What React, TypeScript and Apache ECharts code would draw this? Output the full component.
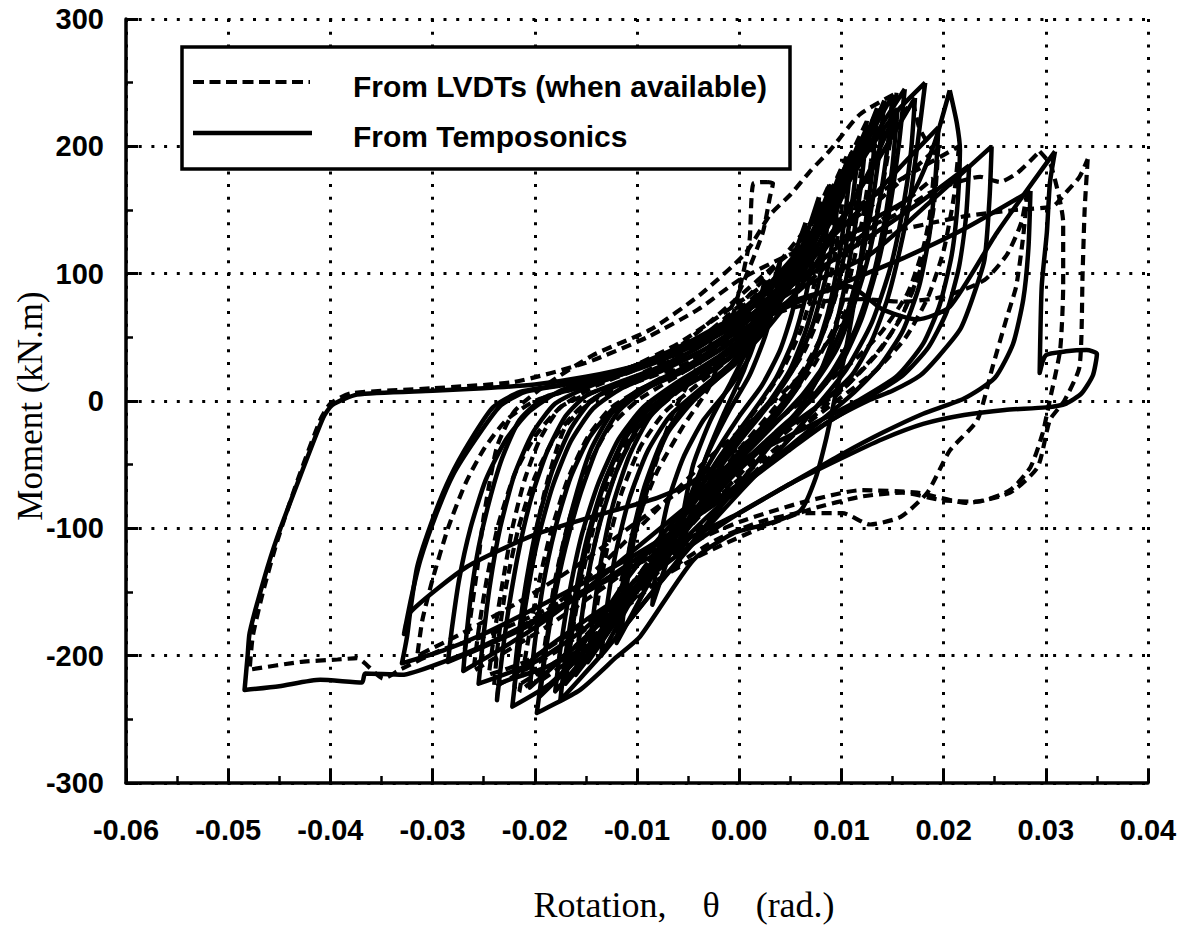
import React, { useEffect, useRef } from "react";
import * as echarts from "echarts";

// ---------- axes ----------
const xRange = [-0.06, 0.04];
const xStep = 0.01;
const yRange = [-300, 300];
const yStep = 100;
const seriesNames = ["From LVDTs (when available)", "From Temposonics"];
const xTitle = "Rotation,    θ    (rad.)";
const yTitle = "Moment (kN.m)";

// ---------- Temposonics (solid) cycles: [rotation, moment] ----------
const tempoA: number[][] = [[0.0309,196],[0.0304,171],[0.0301,132],[0.0296,90],[0.0294,22],[0.0300,36],[0.0320,39],[0.0340,40],[0.0350,37],[0.0346,20],[0.0335,6],[0.0320,-2],[0.0300,-5],[0.0260,-7],[0.0220,-11],[0.0180,-18],[0.0140,-30],[0.0100,-45],[0.0050,-65],[0.0000,-88],[-0.0050,-108],[-0.0100,-128],[-0.0150,-150],[-0.0200,-172],[-0.0250,-192],[-0.0290,-205],[-0.0330,-215],[-0.0366,-214],[-0.0369,-221],[-0.0410,-219],[-0.0450,-224],[-0.0484,-227],[-0.0481,-200],[-0.0479,-182],[-0.0465,-140],[-0.0452,-107],[-0.0430,-60],[-0.0407,-13],[-0.0398,-3],[-0.0374,5],[-0.0300,8],[-0.0250,10],[-0.0200,13],[-0.0150,19],[-0.0100,28],[-0.0050,42],[0.0000,60],[0.0050,78],[0.0108,90],[0.0140,72],[0.0174,64],[0.0206,74],[0.0252,132],[0.0309,196]];
const tempoB: number[][] = [[0.0247,200],[0.0245,160],[0.0240,111],[0.0228,80],[0.0216,56],[0.0195,35],[0.0177,20],[0.0150,8],[0.0128,1],[0.0090,-15],[0.0050,-38],[0.0000,-68],[-0.0050,-95],[-0.0100,-120],[-0.0150,-142],[-0.0200,-163],[-0.0250,-183],[-0.0290,-196],[-0.0330,-206],[-0.0325,-185],[-0.0322,-166],[-0.0315,-130],[-0.0299,-91],[-0.0283,-60],[-0.0263,-31],[-0.0241,-5],[-0.0215,7],[-0.0180,12],[-0.0140,18],[-0.0100,28],[-0.0050,42],[0.0000,60],[0.0050,85],[0.0128,115],[0.0185,155],[0.0247,200]];
const tempoC: number[][] = [[0.0206,244],[0.0213,218],[0.0216,197],[0.0214,158],[0.0208,115],[0.0196,75],[0.0180,45],[0.0155,20],[0.0120,2],[0.0080,-15],[0.0030,-35],[-0.0020,-55],[-0.0080,-76],[-0.0140,-90],[-0.0200,-105],[-0.0266,-130],[-0.0322,-166],[-0.0328,-183],[-0.0321,-155],[-0.0312,-125],[-0.0296,-88],[-0.0280,-58],[-0.0258,-30],[-0.0234,-4],[-0.0210,7],[-0.0170,13],[-0.0120,23],[-0.0070,36],[-0.0020,52],[0.0030,78],[0.0080,110],[0.0125,140],[0.0167,160],[0.0190,200],[0.0206,244]];
const tempoD: number[][] = [[0.0182,250],[0.0175,205],[0.0167,158],[0.0157,118],[0.0145,80],[0.0130,48],[0.0110,20],[0.0080,-2],[0.0040,-25],[0.0000,-50],[-0.0050,-82],[-0.0100,-115],[-0.0150,-148],[-0.0200,-178],[-0.0240,-198],[-0.0270,-212],[-0.0267,-185],[-0.0262,-150],[-0.0255,-115],[-0.0245,-80],[-0.0232,-45],[-0.0215,-15],[-0.0190,3],[-0.0150,12],[-0.0110,22],[-0.0070,34],[-0.0030,50],[0.0010,72],[0.0050,105],[0.0090,150],[0.0125,195],[0.0155,228],[0.0182,250]];
const tempoE: number[][] = [[0.0150,240],[0.0146,205],[0.0138,160],[0.0127,115],[0.0112,75],[0.0095,40],[0.0072,12],[0.0045,-10],[0.0010,-35],[-0.0030,-65],[-0.0070,-100],[-0.0110,-140],[-0.0158,-196],[-0.0195,-211],[-0.0234,-222],[-0.0237,-235],[-0.0232,-200],[-0.0225,-160],[-0.0215,-115],[-0.0203,-75],[-0.0188,-40],[-0.0170,-12],[-0.0150,4],[-0.0120,14],[-0.0080,26],[-0.0040,42],[0.0000,64],[0.0040,98],[0.0080,142],[0.0115,190],[0.0150,240]];
const tempoF: number[][] = [[0.0135,230],[0.0130,180],[0.0122,130],[0.0113,80],[0.0103,35],[0.0093,0],[0.0085,-30],[0.0075,-60],[0.0060,-86],[0.0030,-96],[-0.0006,-104],[-0.0045,-125],[-0.0097,-185],[-0.0120,-201],[-0.0156,-227],[-0.0198,-245],[-0.0193,-215],[-0.0185,-170],[-0.0174,-120],[-0.0160,-75],[-0.0145,-38],[-0.0125,-10],[-0.0100,8],[-0.0060,22],[-0.0020,40],[0.0020,65],[0.0060,100],[0.0095,150],[0.0135,230]];
const tempoG: number[][] = [[0.0125,215],[0.0120,175],[0.0112,130],[0.0102,85],[0.0090,45],[0.0075,15],[0.0055,-10],[0.0025,-35],[-0.0010,-62],[-0.0050,-100],[-0.0090,-140],[-0.0130,-178],[-0.0165,-208],[-0.0195,-232],[-0.0190,-200],[-0.0182,-160],[-0.0170,-115],[-0.0155,-72],[-0.0138,-35],[-0.0118,-8],[-0.0090,10],[-0.0050,25],[-0.0010,45],[0.0030,75],[0.0065,115],[0.0095,160],[0.0125,215]];
const tempoH: number[][] = [[0.0110,195],[0.0105,155],[0.0097,110],[0.0087,70],[0.0073,35],[0.0055,8],[0.0030,-18],[0.0000,-45],[-0.0040,-85],[-0.0080,-125],[-0.0115,-165],[-0.0145,-198],[-0.0170,-222],[-0.0165,-190],[-0.0157,-145],[-0.0145,-100],[-0.0130,-60],[-0.0110,-25],[-0.0085,0],[-0.0050,18],[-0.0010,38],[0.0030,70],[0.0065,115],[0.0110,195]];
const tempoI: number[][] = [[0.0090,170],[0.0085,130],[0.0077,90],[0.0065,55],[0.0050,25],[0.0030,0],[0.0000,-28],[-0.0040,-70],[-0.0075,-115],[-0.0110,-160],[-0.0148,-205],[-0.0143,-170],[-0.0135,-125],[-0.0123,-80],[-0.0107,-42],[-0.0087,-12],[-0.0060,8],[-0.0030,22],[0.0000,40],[0.0030,70],[0.0060,110],[0.0090,170]];
const tempoJ: number[][] = [[0.0065,140],[0.0060,105],[0.0052,70],[0.0040,40],[0.0022,12],[0.0000,-12],[-0.0030,-50],[-0.0060,-95],[-0.0090,-145],[-0.0120,-190],[-0.0115,-155],[-0.0106,-110],[-0.0093,-68],[-0.0076,-32],[-0.0055,-5],[-0.0030,12],[0.0000,32],[0.0030,65],[0.0065,140]];
const tempoK: number[][] = [[0.0040,110],[0.0035,80],[0.0025,50],[0.0010,20],[-0.0010,-8],[-0.0030,-40],[-0.0055,-90],[-0.0085,-160],[-0.0080,-120],[-0.0070,-80],[-0.0055,-45],[-0.0035,-15],[-0.0010,10],[0.0010,35],[0.0040,110]];
const tempoL: number[][] = [[0.0285,165],[0.0283,120],[0.0278,80],[0.0268,45],[0.0250,18],[0.0220,2],[0.0180,-10],[0.0140,-25],[0.0100,-42],[0.0050,-65],[0.0000,-88],[-0.0050,-115],[-0.0100,-145],[-0.0150,-172],[-0.0190,-195],[-0.0220,-215],[-0.0216,-185],[-0.0208,-140],[-0.0197,-95],[-0.0183,-55],[-0.0165,-22],[-0.0145,0],[-0.0120,12],[-0.0080,24],[-0.0040,38],[0.0000,55],[0.0050,75],[0.0100,92],[0.0160,112],[0.0220,135],[0.0285,165]];
const tempoM: number[][] = [[0.0142,236],[0.0137,195],[0.0129,150],[0.0118,105],[0.0104,65],[0.0086,32],[0.0062,5],[0.0030,-22],[-0.0010,-55],[-0.0055,-98],[-0.0100,-145],[-0.0145,-190],[-0.0185,-222],[-0.0222,-240],[-0.0217,-205],[-0.0209,-160],[-0.0198,-112],[-0.0183,-68],[-0.0165,-32],[-0.0143,-6],[-0.0115,10],[-0.0075,24],[-0.0035,40],[0.0005,62],[0.0045,95],[0.0085,140],[0.0115,185],[0.0142,236]];
const tempoN: number[][] = [[0.0118,205],[0.0112,165],[0.0104,120],[0.0093,80],[0.0078,45],[0.0058,15],[0.0032,-12],[0.0000,-40],[-0.0040,-82],[-0.0080,-125],[-0.0120,-170],[-0.0155,-205],[-0.0180,-228],[-0.0175,-195],[-0.0166,-150],[-0.0154,-105],[-0.0138,-65],[-0.0118,-30],[-0.0094,-5],[-0.0060,15],[-0.0020,35],[0.0020,62],[0.0060,105],[0.0090,150],[0.0118,205]];
const tempoO: number[][] = [[0.0078,160],[0.0073,120],[0.0065,82],[0.0053,48],[0.0036,18],[0.0012,-10],[-0.0020,-45],[-0.0055,-90],[-0.0090,-135],[-0.0115,-170],[-0.0135,-200],[-0.0130,-165],[-0.0121,-120],[-0.0108,-78],[-0.0090,-40],[-0.0068,-12],[-0.0040,8],[-0.0010,28],[0.0020,55],[0.0050,95],[0.0078,160]];
const tempoP: number[][] = [[0.0162,245],[0.0156,200],[0.0147,150],[0.0135,105],[0.0120,65],[0.0100,30],[0.0072,2],[0.0035,-25],[-0.0005,-55],[-0.0050,-95],[-0.0100,-140],[-0.0150,-178],[-0.0200,-205],[-0.0255,-222],[-0.0251,-190],[-0.0244,-145],[-0.0234,-100],[-0.0220,-58],[-0.0202,-25],[-0.0180,-2],[-0.0145,12],[-0.0105,24],[-0.0065,38],[-0.0025,55],[0.0015,80],[0.0055,115],[0.0095,160],[0.0130,205],[0.0162,245]];
const tempoQ: number[][] = [[0.0025,95],[0.0018,60],[0.0005,25],[-0.0015,-10],[-0.0035,-50],[-0.0060,-130],[-0.0055,-90],[-0.0045,-50],[-0.0028,-15],[-0.0008,15],[0.0010,45],[0.0025,95]];
const tempoR: number[][] = [[0.0100,182],[0.0094,140],[0.0085,98],[0.0072,60],[0.0055,28],[0.0032,0],[0.0002,-30],[-0.0035,-70],[-0.0075,-115],[-0.0110,-160],[-0.0138,-192],[-0.0160,-215],[-0.0156,-182],[-0.0148,-138],[-0.0136,-95],[-0.0120,-55],[-0.0100,-22],[-0.0075,0],[-0.0040,18],[0.0000,40],[0.0040,78],[0.0070,120],[0.0100,182]];
const tempoS: number[][] = [[0.0195,215],[0.0192,175],[0.0186,130],[0.0176,90],[0.0160,55],[0.0138,28],[0.0110,5],[0.0070,-22],[0.0020,-55],[-0.0030,-90],[-0.0080,-130],[-0.0130,-170],[-0.0170,-200],[-0.0205,-225],[-0.0200,-190],[-0.0192,-145],[-0.0180,-100],[-0.0165,-60],[-0.0146,-28],[-0.0122,-5],[-0.0090,12],[-0.0050,28],[-0.0010,50],[0.0030,80],[0.0080,120],[0.0130,160],[0.0165,190],[0.0195,215]];
const tempoT: number[][] = [[0.0225,185],[0.0222,145],[0.0215,105],[0.0203,70],[0.0185,42],[0.0160,20],[0.0125,2],[0.0080,-20],[0.0030,-48],[-0.0030,-82],[-0.0090,-118],[-0.0150,-150],[-0.0210,-178],[-0.0250,-193],[-0.0285,-205],[-0.0281,-178],[-0.0274,-140],[-0.0263,-100],[-0.0248,-62],[-0.0228,-30],[-0.0205,-8],[-0.0175,8],[-0.0135,18],[-0.0095,30],[-0.0050,46],[0.0000,68],[0.0060,95],[0.0120,125],[0.0175,155],[0.0225,185]];
const tempoU: number[][] = [[0.0155,230],[0.0150,185],[0.0142,140],[0.0130,95],[0.0113,55],[0.0090,22],[0.0060,-8],[0.0025,-40],[-0.0015,-80],[-0.0055,-120],[-0.0090,-155],[-0.0115,-180],[-0.0110,-145],[-0.0101,-100],[-0.0088,-60],[-0.0070,-25],[-0.0045,0],[-0.0015,22],[0.0020,50],[0.0060,90],[0.0100,140],[0.0130,185],[0.0155,230]];
const tempoV: number[][] = [[0.0172,238],[0.0168,195],[0.0160,150],[0.0148,105],[0.0130,62],[0.0105,25],[0.0075,-5],[0.0040,-38],[0.0000,-72],[-0.0045,-112],[-0.0090,-155],[-0.0130,-195],[-0.0175,-235],[-0.0170,-200],[-0.0161,-155],[-0.0149,-108],[-0.0133,-66],[-0.0112,-30],[-0.0088,-6],[-0.0055,14],[-0.0015,36],[0.0030,70],[0.0080,120],[0.0125,175],[0.0172,238]];

// ---------- LVDT (dashed) cycles ----------
const lvdtA: number[][] = [[0.0341,190],[0.0338,150],[0.0336,100],[0.0333,27],[0.0318,0],[0.0304,-15],[0.0292,-52],[0.0265,-72],[0.0223,-80],[0.0174,-72],[0.0120,-70],[0.0060,-80],[0.0000,-95],[-0.0050,-112],[-0.0100,-128],[-0.0150,-148],[-0.0200,-168],[-0.0250,-185],[-0.0290,-195],[-0.0332,-211],[-0.0348,-218],[-0.0374,-202],[-0.0393,-203],[-0.0430,-205],[-0.0479,-211],[-0.0476,-185],[-0.0466,-150],[-0.0452,-110],[-0.0432,-62],[-0.0410,-15],[-0.0400,-2],[-0.0380,6],[-0.0300,10],[-0.0220,15],[-0.0150,30],[-0.0090,50],[-0.0040,72],[0.0000,95],[0.0050,115],[0.0100,125],[0.0160,135],[0.0220,145],[0.0270,150],[0.0307,153],[0.0320,164],[0.0333,176],[0.0341,190]];
const lvdtB: number[][] = [[0.0154,242],[0.0148,205],[0.0138,160],[0.0125,115],[0.0110,80],[0.0090,50],[0.0060,20],[0.0020,-10],[-0.0030,-45],[-0.0080,-85],[-0.0130,-125],[-0.0180,-160],[-0.0230,-185],[-0.0270,-200],[-0.0266,-185],[-0.0263,-170],[-0.0256,-130],[-0.0250,-91],[-0.0237,-36],[-0.0220,-8],[-0.0190,12],[-0.0143,36],[-0.0087,56],[-0.0039,83],[0.0006,116],[0.0030,146],[0.0050,162],[0.0070,181],[0.0089,197],[0.0118,225],[0.0154,242]];
const lvdtC: number[][] = [[0.0294,196],[0.0305,185],[0.0317,140],[0.0317,90],[0.0314,40],[0.0304,1],[0.0297,-25],[0.0285,-52],[0.0265,-70],[0.0233,-79],[0.0199,-78],[0.0160,-72],[0.0120,-75],[0.0070,-85],[0.0020,-100],[-0.0040,-122],[-0.0100,-150],[-0.0160,-180],[-0.0210,-205],[-0.0245,-215],[-0.0240,-185],[-0.0232,-145],[-0.0222,-100],[-0.0210,-62],[-0.0195,-30],[-0.0175,-5],[-0.0146,6],[-0.0100,18],[-0.0050,40],[0.0000,72],[0.0050,105],[0.0100,128],[0.0150,145],[0.0190,165],[0.0236,176],[0.0255,172],[0.0272,179],[0.0294,196]];
const lvdtD: number[][] = [[0.0282,165],[0.0276,140],[0.0262,115],[0.0240,95],[0.0200,82],[0.0160,78],[0.0120,80],[0.0080,78],[0.0040,70],[0.0000,50],[-0.0050,30],[-0.0100,15],[-0.0140,2],[-0.0170,-20],[-0.0190,-70],[-0.0205,-130],[-0.0215,-185],[-0.0220,-225],[-0.0180,-205],[-0.0140,-180],[-0.0100,-155],[-0.0060,-128],[-0.0020,-108],[0.0020,-95],[0.0060,-88],[0.0101,-88],[0.0128,-97],[0.0158,-91],[0.0184,-72],[0.0206,-39],[0.0233,-15],[0.0248,27],[0.0262,66],[0.0271,90],[0.0278,130],[0.0282,165]];
const lvdtE: number[][] = [[0.0125,220],[0.0119,180],[0.0110,135],[0.0098,92],[0.0083,55],[0.0063,25],[0.0035,-5],[0.0000,-38],[-0.0040,-78],[-0.0080,-118],[-0.0120,-158],[-0.0160,-192],[-0.0215,-228],[-0.0208,-195],[-0.0198,-150],[-0.0185,-105],[-0.0168,-62],[-0.0148,-28],[-0.0125,-5],[-0.0090,12],[-0.0050,30],[-0.0010,52],[0.0030,85],[0.0070,130],[0.0125,220]];
const lvdtF: number[][] = [[0.0105,192],[0.0100,150],[0.0092,108],[0.0080,70],[0.0063,38],[0.0040,10],[0.0010,-20],[-0.0030,-60],[-0.0070,-105],[-0.0110,-150],[-0.0140,-185],[-0.0170,-212],[-0.0163,-180],[-0.0153,-135],[-0.0140,-92],[-0.0123,-52],[-0.0102,-20],[-0.0075,2],[-0.0040,20],[0.0000,42],[0.0040,80],[0.0105,192]];
const lvdtG: number[][] = [[0.0028,172],[0.0033,171],[0.0030,160],[0.0023,132],[0.0004,93],[-0.0015,62],[-0.0040,28],[-0.0065,-10],[-0.0090,-70],[-0.0110,-130],[-0.0125,-178],[-0.0115,-140],[-0.0100,-95],[-0.0080,-55],[-0.0055,-20],[-0.0030,10],[-0.0016,40],[-0.0002,80],[0.0010,125],[0.0014,171],[0.0028,172]];
const lvdtH: number[][] = [[0.0195,200],[0.0190,160],[0.0180,120],[0.0165,85],[0.0140,55],[0.0110,30],[0.0070,5],[0.0020,-25],[-0.0040,-60],[-0.0100,-95],[-0.0160,-130],[-0.0220,-160],[-0.0270,-182],[-0.0315,-200],[-0.0310,-172],[-0.0300,-140],[-0.0285,-100],[-0.0268,-65],[-0.0250,-38],[-0.0228,-15],[-0.0200,0],[-0.0160,10],[-0.0110,25],[-0.0060,45],[-0.0010,72],[0.0040,100],[0.0090,130],[0.0140,160],[0.0195,200]];
const lvdtI: number[][] = [[0.0135,228],[0.0129,188],[0.0120,140],[0.0108,96],[0.0093,58],[0.0073,28],[0.0047,0],[0.0012,-30],[-0.0030,-72],[-0.0075,-118],[-0.0120,-165],[-0.0160,-200],[-0.0195,-220],[-0.0189,-185],[-0.0180,-140],[-0.0167,-95],[-0.0150,-55],[-0.0128,-22],[-0.0100,0],[-0.0060,20],[-0.0020,42],[0.0020,72],[0.0060,115],[0.0100,170],[0.0135,228]];
const lvdtJ: number[][] = [[0.0088,170],[0.0082,130],[0.0073,90],[0.0060,55],[0.0042,24],[0.0018,-5],[-0.0015,-40],[-0.0055,-88],[-0.0095,-140],[-0.0125,-175],[-0.0145,-195],[-0.0139,-160],[-0.0129,-115],[-0.0115,-72],[-0.0096,-35],[-0.0072,-8],[-0.0042,12],[-0.0008,35],[0.0030,75],[0.0060,120],[0.0088,170]];
const lvdtK: number[][] = [[0.0170,235],[0.0176,215],[0.0184,203],[0.0194,190],[0.0190,150],[0.0180,110],[0.0162,72],[0.0138,40],[0.0105,12],[0.0060,-15],[0.0010,-50],[-0.0050,-100],[-0.0110,-150],[-0.0170,-192],[-0.0240,-225],[-0.0236,-190],[-0.0228,-145],[-0.0216,-100],[-0.0200,-60],[-0.0180,-28],[-0.0155,-5],[-0.0120,12],[-0.0080,28],[-0.0040,48],[0.0000,75],[0.0040,110],[0.0080,150],[0.0120,190],[0.0170,235]];
const lvdtL: number[][] = [[0.0215,200],[0.0210,160],[0.0200,118],[0.0185,82],[0.0163,50],[0.0135,25],[0.0100,3],[0.0050,-28],[-0.0010,-68],[-0.0070,-108],[-0.0130,-145],[-0.0190,-178],[-0.0260,-212],[-0.0255,-180],[-0.0247,-140],[-0.0236,-98],[-0.0220,-58],[-0.0200,-28],[-0.0175,-5],[-0.0140,12],[-0.0100,25],[-0.0055,45],[-0.0010,75],[0.0040,110],[0.0100,145],[0.0160,175],[0.0215,200]];
const lvdtM: number[][] = [[0.0190,175],[0.0185,135],[0.0175,98],[0.0158,65],[0.0135,38],[0.0105,12],[0.0065,-18],[0.0020,-52],[-0.0030,-92],[-0.0080,-135],[-0.0125,-175],[-0.0160,-205],[-0.0154,-170],[-0.0145,-125],[-0.0132,-82],[-0.0115,-45],[-0.0092,-15],[-0.0062,6],[-0.0025,28],[0.0020,58],[0.0070,95],[0.0120,130],[0.0160,155],[0.0190,175]];

const tempoCycles = [tempoA, tempoB, tempoC, tempoD, tempoE, tempoF, tempoG, tempoH, tempoI, tempoJ, tempoK, tempoL, tempoM, tempoN, tempoO, tempoP, tempoQ, tempoR, tempoS, tempoT, tempoU, tempoV];
const lvdtCycles = [lvdtA, lvdtB, lvdtC, lvdtD, lvdtE, lvdtF, lvdtG, lvdtH, lvdtI, lvdtJ, lvdtK, lvdtL, lvdtM];

const fmtX = (v: number) => (Math.abs(v) < 1e-9 ? "0.00" : v.toFixed(2));

export default function App() {
  const ref = useRef<HTMLDivElement>(null);
  useEffect(() => {
    if (!ref.current) return;
    const chart = echarts.init(ref.current, undefined, { renderer: "svg" });
    const lineCommon = {
      type: "line",
      showSymbol: false,
      symbol: "none",
      silent: true,
      smooth: 0.2,
      z: 3,
    };
    const series: any[] = [];
    tempoCycles.forEach((d) =>
      series.push({
        ...lineCommon,
        name: seriesNames[1],
        data: d,
        lineStyle: { color: "#000", width: 4.5, type: "solid", join: "round" },
      })
    );
    lvdtCycles.forEach((d) =>
      series.push({
        ...lineCommon,
        name: seriesNames[0],
        data: d,
        lineStyle: { color: "#000", width: 4.2, type: [10, 6] },
      })
    );
    const tickFont = { color: "#000", fontFamily: "Liberation Sans", fontWeight: "bold", fontSize: 29 };
    const gridDots = { color: "#000", width: 3, type: [3, 9.7] };
    const option: any = {
      animation: false,
      backgroundColor: "#fff",
      grid: { left: 126, right: 43, top: 19, bottom: 157, containLabel: false },
      xAxis: {
        type: "value",
        min: xRange[0],
        max: xRange[1],
        interval: xStep,
        axisLine: { show: true, onZero: false, lineStyle: { color: "#000", width: 3.5 } },
        axisTick: { show: true, inside: true, length: 12, lineStyle: { color: "#000", width: 3 } },
        minorTick: { show: true, splitNumber: 2, length: 7, lineStyle: { color: "#000", width: 2.5 } },
        splitLine: { show: true, lineStyle: gridDots },
        axisLabel: { ...tickFont, margin: 32, formatter: fmtX },
      },
      yAxis: {
        type: "value",
        min: yRange[0],
        max: yRange[1],
        interval: yStep,
        axisLine: { show: true, onZero: false, lineStyle: { color: "#000", width: 3.5 } },
        axisTick: { show: true, inside: true, length: 12, lineStyle: { color: "#000", width: 3 } },
        minorTick: { show: true, splitNumber: 2, length: 7, lineStyle: { color: "#000", width: 2.5 } },
        splitLine: { show: true, lineStyle: gridDots },
        axisLabel: { ...tickFont, margin: 22 },
      },
      graphic: [
        {
          type: "rect",
          z: 100,
          shape: { x: 182, y: 47, width: 608, height: 122 },
          style: { fill: "#fff", stroke: "#000", lineWidth: 3.5 },
        },
        {
          type: "line",
          z: 101,
          shape: { x1: 193, y1: 82, x2: 310, y2: 82 },
          style: { stroke: "#000", lineWidth: 4, lineDash: [11, 5.5] },
        },
        {
          type: "line",
          z: 101,
          shape: { x1: 193, y1: 133, x2: 312, y2: 133 },
          style: { stroke: "#000", lineWidth: 4.5 },
        },
        {
          type: "text",
          z: 101,
          x: 353,
          y: 86,
          style: { text: seriesNames[0], fill: "#000", fontFamily: "Liberation Sans", fontWeight: "bold", fontSize: 30, align: "left", verticalAlign: "middle" },
        },
        {
          type: "text",
          z: 101,
          x: 353,
          y: 136,
          style: { text: seriesNames[1], fill: "#000", fontFamily: "Liberation Sans", fontWeight: "bold", fontSize: 30, align: "left", verticalAlign: "middle" },
        },
        {
          type: "text",
          z: 101,
          x: 684,
          y: 905,
          style: { text: xTitle, fill: "#000", fontFamily: "Liberation Serif", fontSize: 36, align: "center", verticalAlign: "middle" },
        },
        {
          type: "text",
          z: 101,
          x: 30,
          y: 406,
          rotation: Math.PI / 2,
          style: { text: yTitle, fill: "#000", fontFamily: "Liberation Serif", fontSize: 35, align: "center", verticalAlign: "middle" },
        },
      ],
      series,
    };
    chart.setOption(option);
    return () => chart.dispose();
  }, []);
  return <div ref={ref} style={{ width: 1191, height: 940, position: "fixed", left: 0, top: 0, background: "#fff" }} />;
}
